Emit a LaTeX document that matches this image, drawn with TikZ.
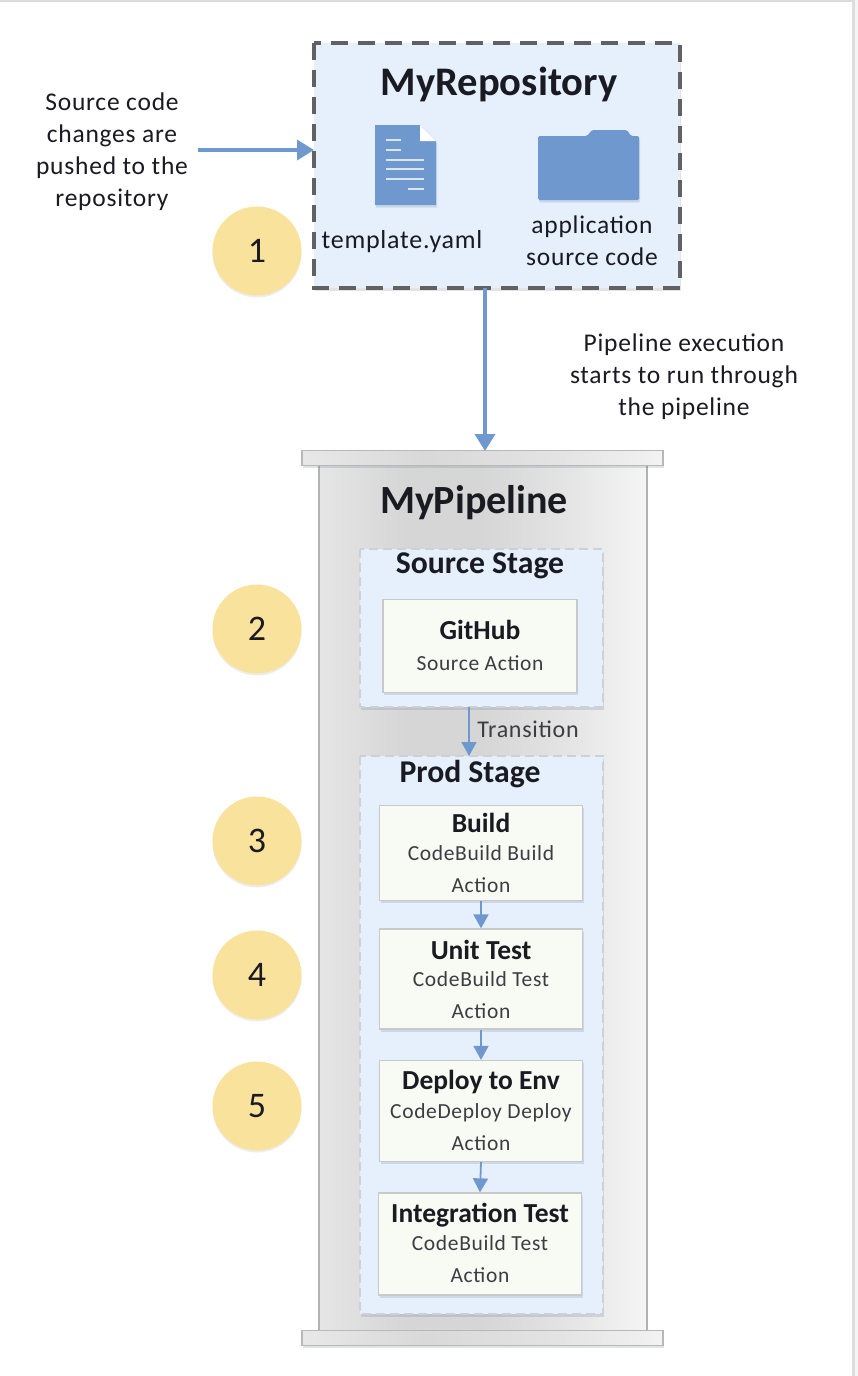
\documentclass[tikz,border=0pt]{standalone}
\usepackage{fontspec}
\setmainfont{Carlito}
\newfontfamily\wide[LetterSpace=3]{Carlito}
\usetikzlibrary{arrows.meta,shadows,calc}
\definecolor{blueL}{HTML}{6F98CF}
\definecolor{paleB}{HTML}{E5F0FC}
\definecolor{paleG}{HTML}{F7FBF4}
\definecolor{dashG}{HTML}{CDD1D7}
\definecolor{yel}{HTML}{F9E29B}
\definecolor{txt}{HTML}{1A1A22}
\pgfdeclarehorizontalshading{pillar}{100bp}{
 color(0bp)=(black!10); color(25bp)=(black!10); color(38bp)=(black!16); color(50bp)=(black!16);
 color(62bp)=(black!11); color(75bp)=(black!4); color(100bp)=(black!4)}
\pgfdeclarehorizontalshading{barshade}{100bp}{
 color(0bp)=(black!9); color(25bp)=(black!9); color(42bp)=(black!15); color(60bp)=(black!11); color(75bp)=(black!5); color(100bp)=(black!5)}
\tikzset{
 x=1pt,y=-1pt,
 softsh/.style={drop shadow={shadow xshift=1pt,shadow yshift=-2.5pt,fill=blueL!60!black,opacity=.16}},
 stagebox/.style={fill=paleB,draw=dashG,line width=1.3pt,dash pattern=on 9pt off 5pt,softsh},
 actionbox/.style={fill=paleG,draw=black!21,line width=1.3pt,softsh},
 badge/.style={circle,fill=yel,minimum size=89pt,inner sep=0pt,font=\fontsize{36}{36}\selectfont,text=txt,drop shadow={shadow xshift=0pt,shadow yshift=-2pt,fill=black,opacity=.07}},
 conn/.style={draw=blueL,line width=3.6pt,-{Triangle[length=17pt,width=20pt,fill=blueL]}},
 conns/.style={draw=blueL,line width=1.8pt,-{Triangle[length=14pt,width=15pt,fill=blueL]}},
 note/.style={align=center,text=txt,font=\wide\fontsize{25.5}{32}\selectfont,inner sep=0pt},
 head/.style={text=txt,font=\bfseries\fontsize{27.5}{30}\selectfont,inner sep=0pt},
 stagehead/.style={text=txt,font=\bfseries\fontsize{31.7}{32}\selectfont,inner sep=0pt},
 sub/.style={text=txt!85,font=\wide\fontsize{21.5}{31.5}\selectfont,align=center,inner sep=0pt},
 capbar/.style={shading=barshade,draw=black!28,line width=1.5pt,softsh,minimum width=361pt,minimum height=15pt,inner sep=0pt},
}
\begin{document}
\begin{tikzpicture}
\useasboundingbox (0,0) rectangle (858,1376);
\fill[white] (0,0) rectangle (858,1376);
\fill[black!14] (0,0) rectangle (858,2);
\fill[black!13] (852,0) rectangle (855,1376);
\fill[black!4] (855,0) rectangle (858,1376);

% repository
\draw[fill=paleB,draw=black!62,line width=3.2pt,dash pattern=on 17pt off 10pt,softsh] (314,43) rectangle (680,288);
\node[text=txt,font=\bfseries\fontsize{40.6}{40}\selectfont,inner sep=0pt] (repotitle) at (499,84) {MyRepository};
\coordinate (repoIn) at (314,150);
\coordinate (repoOut) at (485,288);
% document icon
\fill[blueL,softsh] (375,125) -- (420,125) -- (436,141) -- (436,205) -- (375,205) -- cycle;
\fill[white] (420,125) -- (436,141) -- (420,141) -- cycle;
\foreach \a/\b/\yy in {386/401/140,386/401/150,386/424/160,386/424/169,386/424/179,408/424/189}
  \draw[white!75!blueL,line width=1.6pt] (\a,\yy) -- (\b,\yy);
% folder icon
\fill[blueL,softsh,rounded corners=1.5pt] (538,136) -- (587,136) -- (592,130) -- (627,130) -- (631,136) -- (639,136) -- (639,200) -- (538,200) -- cycle;
\node[note,font=\wide\fontsize{26}{32}\selectfont] (tpl) at (402,242) {template.yaml};
\node[note] (app) at (592,241) {application\\source code};

% left note
\node[note] (srcnote) at (112,152) {Source code\\changes are\\pushed to the\\repository};
\coordinate (srcOut) at (198,150);
\draw[conn] (srcOut) -- (repoIn);

% pipeline note
\node[note] (pipenote) at (684,377) {Pipeline execution\\starts to run through\\the pipeline};

% pipeline body
\draw[shading=pillar,draw=black!30,line width=1.5pt] (319,465) rectangle (647,1331);
\node[capbar] (capT) at (482.5,458) {};
\node[capbar] (capB) at (482.5,1338) {};
\coordinate (capIn) at (485,451);
\draw[conn] (repoOut) -- (capIn);
\node[text=txt,font=\bfseries\fontsize{40}{40}\selectfont,inner sep=0pt] (pipetitle) at (474,503) {MyPipeline};

% stages
\draw[stagebox] (360,549) rectangle (603,707);
\coordinate (srcS) at (469,707);
\node[stagehead] (srct) at (480,566) {Source Stage};
\draw[stagebox] (360,756) rectangle (603,1314);
\coordinate (prodS) at (469,756);
\node[stagehead] (prodt) at (470,774) {Prod Stage};
\draw[conns] (srcS) -- (prodS);
\node[sub,font=\wide\fontsize{24}{24}\selectfont] (trans) at (528,729) {Transition};

% actions
\node[actionbox,minimum width=194pt,minimum height=93pt,inner sep=0pt] (gh) at (480,646) {};
\node[head] (ght) at (480,630) {GitHub};
\node[sub] (ghs) at (480,663) {Source Action};

\node[actionbox,minimum width=203pt,minimum height=95pt,inner sep=0pt] (build) at (481,853) {};
\node[head] (bt) at (481,823) {Build};
\node[sub] (bs) at (481,869) {CodeBuild Build\\Action};

\node[actionbox,minimum width=203pt,minimum height=100pt,inner sep=0pt] (unit) at (481,979) {};
\node[head] (ut) at (481,950) {Unit Test};
\node[sub] (us) at (481,995) {CodeBuild Test\\Action};

\node[actionbox,minimum width=203pt,minimum height=101pt,inner sep=0pt] (deploy) at (481,1111) {};
\node[head] (dt) at (481,1082) {Deploy to Env};
\node[sub] (ds) at (481,1127) {CodeDeploy Deploy\\Action};

\node[actionbox,minimum width=203pt,minimum height=102pt,inner sep=0pt] (integ) at (480,1244) {};
\node[head] (it) at (480,1215) {Integration Test};
\node[sub] (is) at (480,1259) {CodeBuild Test\\Action};

\draw[conns] (build.south) -- (unit.north);
\draw[conns] (unit.south) -- (deploy.north);
\draw[conns] (deploy.south) -- (integ.north);

% badges
\node[badge] (b1) at (257,251) {1};
\node[badge] (b2) at (257,629) {2};
\node[badge] (b3) at (257,841) {3};
\node[badge] (b4) at (257,975) {4};
\node[badge] (b5) at (257,1106) {5};
\end{tikzpicture}
\end{document}
